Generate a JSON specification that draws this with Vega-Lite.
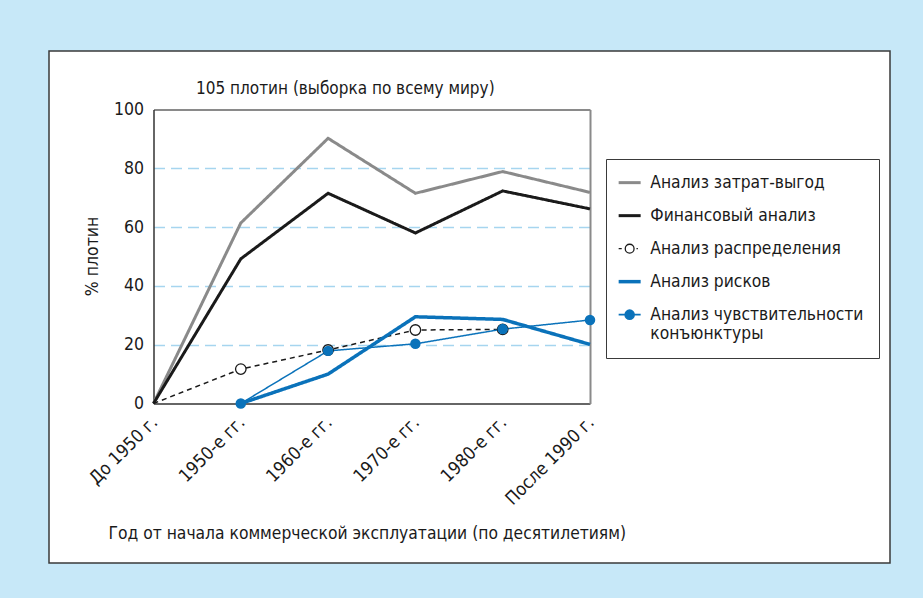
{
  "$schema": "https://vega.github.io/schema/vega-lite/v6.json",
  "width": 841,
  "height": 512,
  "autosize": {"type": "none"},
  "padding": {"left": 49, "top": 51, "right": 33, "bottom": 35},
  "background": "#c7e8f8",
  "config": {
    "font": "DejaVu Sans Condensed, sans-serif",
    "view": {"fill": "white", "stroke": "#3a3a3a", "strokeWidth": 1.5}
  },
  "title": {
    "text": "105 плотин (выборка по всему миру)",
    "anchor": "start",
    "frame": "group",
    "offset": 0,
    "baseline": "alphabetic",
    "dx": 147,
    "dy": 60,
    "fontSize": 17,
    "fontWeight": "normal",
    "color": "#1a1a1a"
  },
  "data": {
    "values": [
      {"series": "Анализ затрат-выгод", "period": "До 1950 г.", "value": 0},
      {"series": "Анализ затрат-выгод", "period": "1950-е гг.", "value": 61.4},
      {"series": "Анализ затрат-выгод", "period": "1960-е гг.", "value": 90.2},
      {"series": "Анализ затрат-выгод", "period": "1970-е гг.", "value": 71.5},
      {"series": "Анализ затрат-выгод", "period": "1980-е гг.", "value": 78.9},
      {"series": "Анализ затрат-выгод", "period": "После 1990 г.", "value": 71.8},
      {"series": "Финансовый анализ", "period": "До 1950 г.", "value": 0},
      {"series": "Финансовый анализ", "period": "1950-е гг.", "value": 49.2},
      {"series": "Финансовый анализ", "period": "1960-е гг.", "value": 71.5},
      {"series": "Финансовый анализ", "period": "1970-е гг.", "value": 58.0},
      {"series": "Финансовый анализ", "period": "1980-е гг.", "value": 72.3},
      {"series": "Финансовый анализ", "period": "После 1990 г.", "value": 66.2},
      {"series": "Анализ распределения", "period": "До 1950 г.", "value": 0},
      {"series": "Анализ распределения", "period": "1950-е гг.", "value": 11.7},
      {"series": "Анализ распределения", "period": "1960-е гг.", "value": 18.2},
      {"series": "Анализ распределения", "period": "1970-е гг.", "value": 25.0},
      {"series": "Анализ распределения", "period": "1980-е гг.", "value": 25.2},
      {"series": "Анализ рисков", "period": "1950-е гг.", "value": 0},
      {"series": "Анализ рисков", "period": "1960-е гг.", "value": 10.0},
      {"series": "Анализ рисков", "period": "1970-е гг.", "value": 29.5},
      {"series": "Анализ рисков", "period": "1980-е гг.", "value": 28.6},
      {"series": "Анализ рисков", "period": "После 1990 г.", "value": 20.1},
      {"series": "Анализ чувствительности конъюнктуры", "period": "1950-е гг.", "value": 0},
      {"series": "Анализ чувствительности конъюнктуры", "period": "1960-е гг.", "value": 17.9},
      {"series": "Анализ чувствительности конъюнктуры", "period": "1970-е гг.", "value": 20.3},
      {"series": "Анализ чувствительности конъюнктуры", "period": "1980-е гг.", "value": 25.3},
      {"series": "Анализ чувствительности конъюнктуры", "period": "После 1990 г.", "value": 28.4}
    ]
  },
  "resolve": {"axis": {"x": "independent", "y": "independent"}},
  "layer": [
    {
      "mark": {"type": "line", "strokeJoin": "miter"},
      "encoding": {
        "x": {
          "field": "period",
          "type": "ordinal",
          "sort": ["До 1950 г.", "1950-е гг.", "1960-е гг.", "1970-е гг.", "1980-е гг.", "После 1990 г."],
          "scale": {"type": "point", "range": [104.5, 541], "padding": 0},
          "axis": {
            "orient": "bottom",
            "offset": -159.5,
            "ticks": false,
            "grid": false,
            "labelAngle": -45,
            "labelAlign": "right",
            "labelBaseline": "middle",
            "labelPadding": 16,
            "labelOffset": 1,
            "labelFontSize": 18,
            "labelColor": "#1a1a1a",
            "labelOverlap": false,
            "domainColor": "#333333",
            "domainWidth": 1.5,
            "title": "Год от начала коммерческой эксплуатации (по десятилетиям)",
            "titleX": 59,
            "titleY": 135,
            "titleAlign": "left",
            "titleAnchor": "start",
            "titleBaseline": "alphabetic",
            "titleFontSize": 17.3,
            "titleFontWeight": "normal",
            "titleColor": "#1a1a1a"
          }
        },
        "y": {
          "field": "value",
          "type": "quantitative",
          "scale": {"domain": [0, 100], "range": [352.5, 58.5], "nice": false, "zero": false},
          "axis": {
            "orient": "left",
            "offset": -104.5,
            "values": [0, 20, 40, 60, 80, 100],
            "ticks": false,
            "labelPadding": 10,
            "labelFontSize": 17.5,
            "labelColor": "#1a1a1a",
            "domainColor": "#333333",
            "domainWidth": 1.5,
            "grid": true,
            "gridColor": {"condition": {"test": "datum.value == 0 || datum.value == 100", "value": "transparent"}, "value": "#a6d5ef"},
            "gridDash": [11, 6],
            "gridWidth": 1.5,
            "title": "% плотин",
            "titleX": -61.5,
            "titleY": 205,
            "titleAngle": -90,
            "titleAlign": "center",
            "titleBaseline": "middle",
            "titleFontSize": 17.5,
            "titleFontWeight": "normal",
            "titleColor": "#1a1a1a"
          }
        },
        "color": {
          "field": "series",
          "type": "nominal",
          "scale": {
            "domain": ["Анализ затрат-выгод", "Финансовый анализ", "Анализ распределения", "Анализ рисков", "Анализ чувствительности конъюнктуры"],
            "range": ["#8a8a8a", "#1a1a1a", "#1a1a1a", "#0a72ba", "#0a72ba"]
          },
          "legend": {
            "orient": "none",
            "legendX": 557,
            "legendY": 108,
            "title": null,
            "padding": 15,
            "strokeColor": "#3a3a3a",
            "fillColor": "white",
            "labelFontSize": 17.3,
            "labelColor": "#1a1a1a",
            "labelLimit": 400,
            "labelOffset": 12,
            "symbolSize": 484,
            "rowPadding": 15,
            "labelExpr": "datum.label == 'Анализ чувствительности конъюнктуры' ? ['Анализ чувствительности', 'конъюнктуры'] : datum.label",
            "encode": {
              "symbols": {
                "update": {
                  "shape": {"signal": "datum.value == 'Анализ распределения' ? 'M-1,0H-0.72M0.4,0A0.4,0.4,0,1,1,-0.4,0A0.4,0.4,0,1,1,0.4,0M0.62,0H0.75' : datum.value == 'Анализ чувствительности конъюнктуры' ? 'M-1,0H1M0.4,0A0.4,0.4,0,1,1,-0.4,0A0.4,0.4,0,1,1,0.4,0' : 'M-1,0H1'"},
                  "fill": {"signal": "datum.value == 'Анализ распределения' ? 'white' : datum.value == 'Анализ чувствительности конъюнктуры' ? '#0a72ba' : 'transparent'"},
                  "strokeWidth": {"signal": "datum.value == 'Анализ рисков' ? 3.5 : datum.value == 'Анализ распределения' ? 1.3 : datum.value == 'Анализ чувствительности конъюнктуры' ? 1.8 : 3"},
                  "strokeDash": {"value": []},
                  "size": {"value": 484},
                  "opacity": {"value": 1}
                }
              }
            }
          }
        },
        "strokeWidth": {
          "condition": [
            {"test": "datum.series == 'Анализ рисков'", "value": 3.5},
            {"test": "datum.series == 'Анализ распределения' || datum.series == 'Анализ чувствительности конъюнктуры'", "value": 1.5}
          ],
          "value": 3
        },
        "strokeDash": {
          "condition": {"test": "datum.series == 'Анализ распределения'", "value": [5, 4]},
          "value": [1, 0]
        }
      }
    },
    {
      "transform": [
        {"filter": "datum.series == 'Анализ распределения' && datum.period != 'До 1950 г.'"}
      ],
      "mark": {"type": "point", "shape": "circle", "fill": "white", "stroke": "#1a1a1a", "strokeWidth": 1.3, "size": 110, "opacity": 1},
      "encoding": {
        "x": {
          "field": "period",
          "type": "ordinal",
          "sort": ["До 1950 г.", "1950-е гг.", "1960-е гг.", "1970-е гг.", "1980-е гг.", "После 1990 г."],
          "axis": {"orient": "top", "offset": -58.5, "labels": false, "ticks": false, "grid": false, "title": null, "domainColor": "#8a8a8a", "domainWidth": 2}
        },
        "y": {
          "field": "value",
          "type": "quantitative",
          "axis": {"orient": "right", "offset": -300, "labels": false, "ticks": false, "grid": false, "title": null, "domainColor": "#8a8a8a", "domainWidth": 2}
        }
      }
    },
    {
      "transform": [
        {"filter": "datum.series == 'Анализ чувствительности конъюнктуры'"}
      ],
      "mark": {"type": "circle", "color": "#0a72ba", "size": 110, "opacity": 1},
      "encoding": {
        "x": {
          "field": "period",
          "type": "ordinal",
          "sort": ["До 1950 г.", "1950-е гг.", "1960-е гг.", "1970-е гг.", "1980-е гг.", "После 1990 г."],
          "axis": null
        },
        "y": {"field": "value", "type": "quantitative", "axis": null}
      }
    }
  ]
}
